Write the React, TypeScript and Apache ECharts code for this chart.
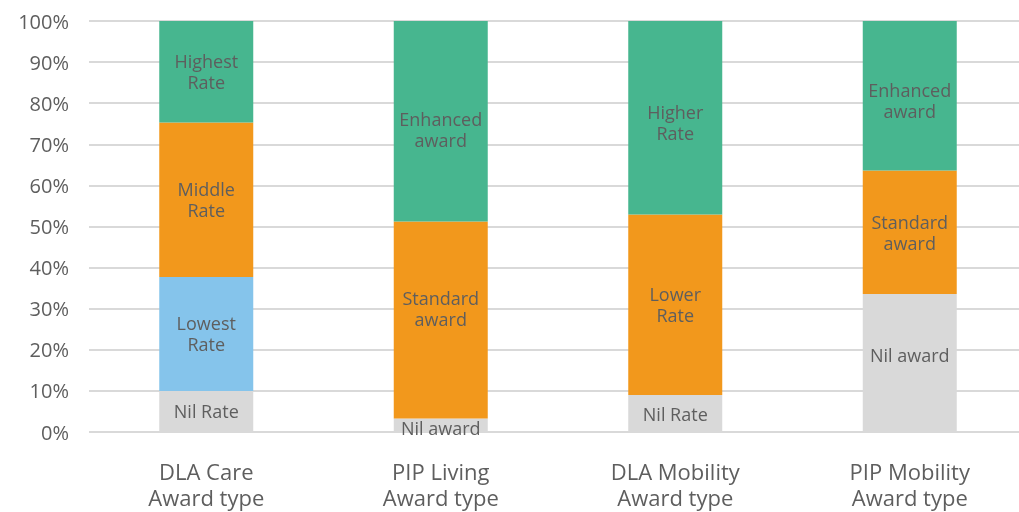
import React, { useEffect, useRef } from "react";
import * as echarts from "echarts";

const categories = ["DLA Care\nAward type", "PIP Living\nAward type", "DLA Mobility\nAward type", "PIP Mobility\nAward type"];
// segment shares (percent), bottom to top
const nilValues = [10, 3.3, 9, 33.6];
const lowValues = [27.7, 0, 0, 0];
const midValues = [37.6, 47.9, 43.9, 30];
const topValues = [24.7, 48.8, 47.1, 36.4];
const nilLabels = ["Nil Rate", "Nil award", "Nil Rate", "Nil award"];
const lowLabels = ["Lowest\nRate", "", "", ""];
const midLabels = ["Middle\nRate", "Standard\naward", "Lower\nRate", "Standard\naward"];
const topLabels = ["Highest\nRate", "Enhanced\naward", "Higher\nRate", "Enhanced\naward"];
const yTicks = [0, 10, 20, 30, 40, 50, 60, 70, 80, 90, 100];

const FONT = "'Open Sans', 'Noto Sans', sans-serif";
const TEXT = "#5e5e5e";

export default function App() {
  const ref = useRef<HTMLDivElement>(null);
  useEffect(() => {
    if (!ref.current) return;
    const chart = echarts.init(ref.current, undefined, { renderer: "svg" });
    const mk = (name: string, vals: number[], labels: string[], color: string, offs?: number[]) => ({
      name,
      type: "bar",
      stack: "s",
      barWidth: 94,
      data: vals.map((v, i) => ({
        value: v,
        label: { formatter: labels[i], offset: [0, offs ? offs[i] : 0] },
      })),
      itemStyle: { color },
      label: {
        show: true,
        position: "inside",
        color: TEXT,
        fontFamily: FONT,
        fontSize: 18,
        lineHeight: 21,
      },
    });
    chart.setOption({
      animation: false,
      grid: { left: 89, top: 21, right: 0, bottom: 80, containLabel: false },
      xAxis: {
        type: "category",
        data: categories,
        axisLine: { show: false },
        axisTick: { show: false },
        axisLabel: {
          color: TEXT,
          fontFamily: FONT,
          fontSize: 22,
          lineHeight: 26,
          margin: 26,
          interval: 0,
        },
      },
      yAxis: {
        type: "value",
        min: 0,
        max: 100,
        interval: 10,
        axisLine: { show: false },
        axisTick: { show: false },
        splitLine: { lineStyle: { color: "#d9d9d9", width: 2 } },
        axisLabel: {
          color: TEXT,
          fontFamily: FONT,
          fontSize: 20,
          margin: 20,
          formatter: (v: number) => (yTicks.includes(v) ? v + "%" : ""),
        },
      },
      series: [
        mk("Nil", nilValues, nilLabels, "#d9d9d9", [0, 3, 0, -8]),
        mk("Low", lowValues, lowLabels, "#85c4eb"),
        mk("Mid", midValues, midLabels, "#f2981c", [0, -12, 0, 0]),
        mk("Top", topValues, topLabels, "#47b68f", [0, 8, 5, 5]),
      ],
    });
    return () => chart.dispose();
  }, []);
  return (
    <div
      style={{ position: "fixed", left: 0, top: 0, width: 1019, height: 512, overflow: "hidden" }}
    >
      <div ref={ref} style={{ width: 1027, height: 512 }} />
    </div>
  );
}
